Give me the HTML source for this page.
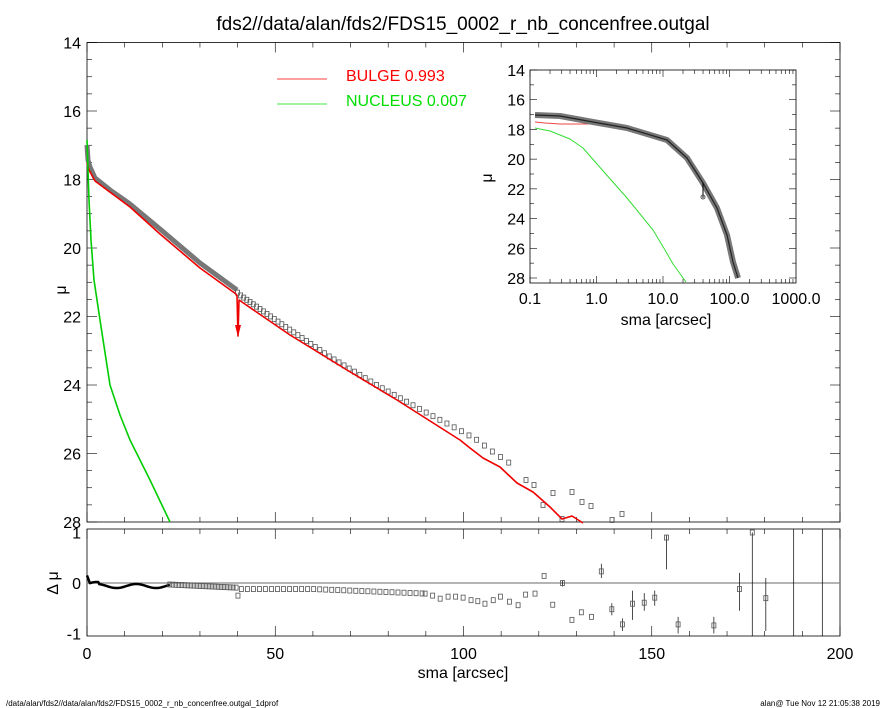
<!DOCTYPE html>
<html><head><meta charset="utf-8"><style>
body{margin:0;background:#fff;}
svg{display:block;font-family:"Liberation Sans",sans-serif;}
</style></head><body>
<svg id="s" width="885" height="708" xmlns="http://www.w3.org/2000/svg">
<rect width="885" height="708" fill="#fff"/>
<text x="463" y="30" font-size="19" text-anchor="middle">fds2//data/alan/fds2/FDS15_0002_r_nb_concenfree.outgal</text>
<g id="main"></g>
<line x1="277" y1="79" x2="327" y2="79" stroke="#f00" stroke-width="0.8"/>
<text x="346" y="81" font-size="16" fill="#f00">BULGE  0.993</text>
<line x1="277" y1="104" x2="327" y2="104" stroke="#0d0" stroke-width="0.8"/>
<text x="346" y="106" font-size="16" fill="#0d0">NUCLEUS  0.007</text>
<text x="6" y="706" font-size="8">/data/alan/fds2//data/alan/fds2/FDS15_0002_r_nb_concenfree.outgal_1dprof</text>
<text x="880" y="706" font-size="8" text-anchor="end">alan@  Tue Nov 12 21:05:38 2019</text>
</svg>
<script>
const g=document.getElementById('main');let h='';
const L=87,R=840,T=42.5,B=522;
const X=r=>L+(R-L)*r/200, Y=m=>T+(m-14)*(B-T)/14;
h+=`<rect x="${L}" y="${T}" width="${R-L}" height="${B-T}" fill="none" stroke="#000" stroke-width="0.8"/>`;
for(let m=14;m<=28;m+=0.5){const y=Y(m),mj=m%2==0,l=mj?10:5;
h+=`<line x1="${L}" x2="${L+l}" y1="${y}" y2="${y}" stroke="#000" stroke-width="0.6"/><line x1="${R}" x2="${R-l}" y1="${y}" y2="${y}" stroke="#000" stroke-width="0.6"/>`;
if(mj)h+=`<text x="${L-6}" y="${y+6}" font-size="16" text-anchor="end">${m}</text>`;}
h+=`<text x="66" y="290" font-size="16" text-anchor="middle" transform="rotate(-90 66 290)">μ</text>`;
const PT=529,PB=636,Z=583,S=50.5;const D=d=>Z-d*S;
h+=`<rect x="${L}" y="${PT}" width="${R-L}" height="${PB-PT}" fill="none" stroke="#000" stroke-width="0.8"/>`;
h+=`<line x1="${L}" x2="${R}" y1="${Z}" y2="${Z}" stroke="#888" stroke-width="1.2"/>`;
for(let r=0;r<=200;r+=10){const x=X(r),mj=r%50==0,l=mj?10:5;
h+=`<line x1="${x}" x2="${x}" y1="${B}" y2="${B-l}" stroke="#000" stroke-width="0.6"/><line x1="${x}" x2="${x}" y1="${T}" y2="${T+l}" stroke="#000" stroke-width="0.6"/><line x1="${x}" x2="${x}" y1="${PB}" y2="${PB-l}" stroke="#000" stroke-width="0.6"/><line x1="${x}" x2="${x}" y1="${PT}" y2="${PT+l}" stroke="#000" stroke-width="0.6"/>`;
if(mj)h+=`<text x="${x}" y="659" font-size="16" text-anchor="middle">${r}</text>`;}
[[1,'1'],[0,'0'],[-1,'-1']].forEach(([d,t])=>h+=`<text x="${L-6}" y="${D(d)+6}" font-size="16" text-anchor="end">${t}</text>`);
h+=`<text x="463" y="678" font-size="16" text-anchor="middle">sma [arcsec]</text>`;
h+=`<text x="58" y="583" font-size="16" text-anchor="middle" transform="rotate(-90 58 583)">Δ μ</text>`;
const pl=(pts,c,w)=>`<polyline points="${pts.map(p=>p.join(',')).join(' ')}" fill="none" stroke="${c}" stroke-width="${w}" stroke-linejoin="round"/>`;
h+=pl([[87,145],[88,160],[90,167],[95,178],[110,190],[130,204],[160,229],[200,263],[237,290]],'#777',5);
function sq(x,y){return `<rect x="${x-2}" y="${y-2.5}" width="4" height="5" fill="none" stroke="#555" stroke-width="0.8"/>`;}
const mk=[[237,292],[240,295],[280,323],[330,357],[380,387],[427,413],[463,432],[477,440],[493,452],[508,462],[517,469]];
function interp(pts,x){for(let i=1;i<pts.length;i++){if(x<=pts[i][0]){const a=pts[i-1],b=pts[i];return a[1]+(b[1]-a[1])*(x-a[0])/(b[0]-a[0]);}}return pts[pts.length-1][1];}
for(let r=40;r<=114;r*=1.02){const x=X(r);h+=sq(x,interp(mk,x));}
[[526,480],[534,485],[543,505],[553,493],[572,492],[582,502],[591,506],[612,520],[622,514],[562,519]].forEach(p=>h+=sq(p[0],p[1]));
h+=pl([[87,163],[89,170],[95,181],[130,207],[160,234],[200,268],[236,294],[237,296],[238,336],[239,300],[290,335],[347,370],[397,400],[460,440],[470,448],[483,458],[500,467],[517,483],[533,492],[550,507],[562,519],[572,516],[583,523]],'#e00',1.6);
h+=`<polygon points="235,325 241,325 238,337" fill="#e00"/>`;
h+=pl([[87,140],[88,170],[89,200],[91,240],[94,280],[100,320],[110,385],[120,415],[130,440],[150,480],[170,522]],'#0c0',1.6);
let rp=[];for(let r=0;r<=22;r+=0.25){let d=0.04*Math.sin(r*0.6)-0.02-(r>3?0.04:0);if(r<0.6)d=0.15-r*0.2;rp.push([X(r),D(d)]);}
h+=pl(rp,'#000',2.5);
for(let r=22;r<40;r+=0.8)h+=sq(X(r),D(-0.03-(r-22)*0.0035));
h+=sq(X(40.1),D(-0.25));
for(let r=41;r<89;r+=1.6){let d=-0.12-(r>60?(r-60)*0.003:0);h+=sq(X(r),D(d));}
const res=[[89.8,-0.21],[91.8,-0.25],[93.8,-0.31],[95.9,-0.27],[97.9,-0.27],[99.9,-0.29],[102,-0.34],[103.8,-0.36],[105.7,-0.41],[107.9,-0.34],[109.8,-0.27],[112.2,-0.37],[114.5,-0.44],[116.5,-0.23],[119,-0.21],[121.4,0.14],[123.7,-0.43],[126.3,0],[128.8,-0.73],[131.3,-0.58],[134,-0.67],[136.6,0.23],[139.4,-0.52],[142.2,-0.82],[144.9,-0.41],[148,-0.39],[150.8,-0.29],[153.9,0.9],[157,-0.82],[166.5,-0.84],[173.3,-0.12],[176.7,1.0],[180.3,-0.3]];
const err={136.6:[0.38,0.1],139.4:[-0.4,-0.64],142.2:[-0.7,-0.95],144.9:[-0.15,-0.73],148:[-0.2,-0.55],150.8:[-0.15,-0.45],153.9:[0.95,0.27],157:[-0.67,-1],166.5:[-0.67,-1],173.3:[0.2,-0.55],176.7:[1,-1.05],180.3:[0.1,-0.95],126.3:[0.05,-0.07]};
res.forEach(([r,d])=>{if(err[r]){const e=err[r];h+=`<line x1="${X(r)}" x2="${X(r)}" y1="${D(e[0])}" y2="${D(e[1])}" stroke="#000" stroke-width="0.7"/>`;}h+=sq(X(r),D(d));});
[187.7,195.3].forEach(r=>h+=`<line x1="${X(r)}" x2="${X(r)}" y1="${PT}" y2="${PB}" stroke="#000" stroke-width="0.7"/>`);
const iL=530,iR=796,iT=70,iB=283,iX=v=>iL+(Math.log10(v)+1)*66.5,iY=m=>iT+(m-14)*(278-70)/14;
h+=`<rect x="${iL}" y="${iT}" width="${iR-iL}" height="${iB-iT}" fill="#fff" stroke="#000" stroke-width="0.8"/>`;
for(let m=14;m<=28;m+=1){const y=iY(m),l=m%2==0?7:4;h+=`<line x1="${iL}" x2="${iL+l}" y1="${y}" y2="${y}" stroke="#000" stroke-width="0.6"/><line x1="${iR}" x2="${iR-l}" y1="${y}" y2="${y}" stroke="#000" stroke-width="0.6"/>`;
if(m%2==0)h+=`<text x="${iL-5}" y="${y+6}" font-size="16" text-anchor="end">${m}</text>`;}
for(let e=-1;e<3;e++)for(let k=1;k<10;k++){const x=iX(k*Math.pow(10,e)),l=k==1?7:4;h+=`<line x1="${x}" x2="${x}" y1="${iB}" y2="${iB-l}" stroke="#000" stroke-width="0.6"/><line x1="${x}" x2="${x}" y1="${iT}" y2="${iT+l}" stroke="#000" stroke-width="0.6"/>`;}
['0.1','1.0','10.0','100.0','1000.0'].forEach((t,i)=>h+=`<text x="${iL+i*66.5}" y="304" font-size="16" text-anchor="middle">${t}</text>`);
h+=`<text x="666" y="325" font-size="16" text-anchor="middle">sma [arcsec]</text>`;
h+=`<text x="492" y="178" font-size="16" text-anchor="middle" transform="rotate(-90 492 178)">μ</text>`;
h+=pl([[535,122],[545,123],[560,124],[593,124],[600,124]],'#e44',1);
const gp=[[535,115],[560,116],[593,122],[627,128],[667,140],[687,158],[703,183],[717,208],[727,235],[733,262],[738,278]];
h+=pl(gp,'#777',6);
h+=pl(gp,'#222',1.2);
h+=`<line x1="703" x2="703" y1="183" y2="198" stroke="#000" stroke-width="1"/>`+`<circle cx="703" cy="197" r="2" fill="none" stroke="#555"/>`;
h+=pl([[535,128],[550,131],[570,139],[583,148],[597,164],[627,198],[653,230],[665,250],[673,264],[686,282]],'#3d3',1);
g.innerHTML=h;
</script>
</body></html>
